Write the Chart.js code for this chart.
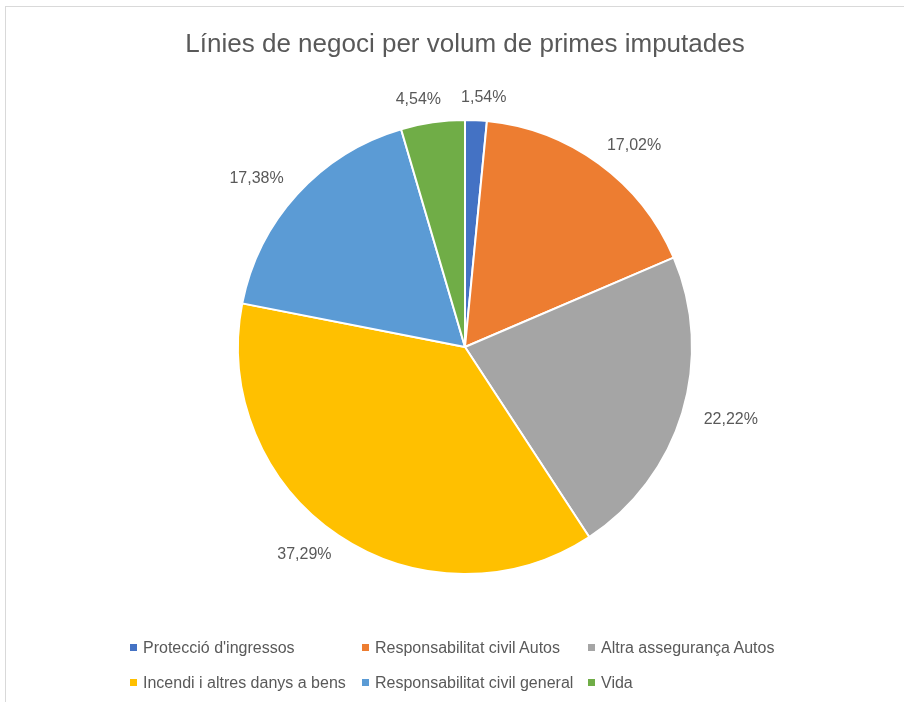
<!DOCTYPE html>
<html>
<head>
<meta charset="utf-8">
<script src="https://cdn.jsdelivr.net/npm/chart.js@4"></script>
<style>
  html, body { margin: 0; padding: 0; background: #fff; overflow: hidden; width: 904px; height: 702px; }
  #frame { position: absolute; left: 5px; top: 6px; width: 918px; height: 712px; border: 1px solid #d9d9d9; background: #fff; }
  #chartBox { position: absolute; left: 0; top: 0; width: 918px; height: 712px; }
  #legend { position: absolute; left: 124px; top: 623px; display: grid; grid-template-columns: 232px 226px auto; grid-auto-rows: 35px;
            font-family: "Liberation Sans", Arial, sans-serif; font-size: 16px; color: #595959; }
  #legend .item { display: flex; align-items: center; white-space: nowrap; }
  #legend .box { width: 7px; height: 7px; margin-right: 6px; flex: none; }
</style>
</head>
<body>
<div id="frame">
  <div id="chartBox"><canvas id="pie"></canvas></div>
  <div id="legend"></div>
</div>
<script>
const chartTitle = 'Línies de negoci per volum de primes imputades';
const categories = [
  "Protecció d'ingressos",
  'Responsabilitat civil Autos',
  'Altra assegurança Autos',
  'Incendi i altres danys a bens',
  'Responsabilitat civil general',
  'Vida'
];
const shares = [1.54, 17.02, 22.22, 37.29, 17.38, 4.54];
const sliceColors = ['#4472C4', '#ED7D31', '#A5A5A5', '#FFC000', '#5B9BD5', '#70AD47'];

const textColor = '#595959';
const fontFamily = '"Liberation Sans", Arial, sans-serif';

// percent labels outside the pie, Excel style (comma decimals)
const outsideLabels = {
  id: 'outsideLabels',
  afterDatasetsDraw(chart) {
    const ctx = chart.ctx;
    const meta = chart.getDatasetMeta(0);
    ctx.save();
    ctx.font = '16px ' + fontFamily;
    ctx.fillStyle = textColor;
    ctx.textAlign = 'center';
    ctx.textBaseline = 'middle';
    meta.data.forEach((arc, i) => {
      const p = arc.getProps(['x', 'y', 'startAngle', 'endAngle', 'outerRadius'], true);
      const mid = (p.startAngle + p.endAngle) / 2;
      const ux = Math.cos(mid), uy = Math.sin(mid);
      const text = shares[i].toFixed(2).replace('.', ',') + '%';
      const r = p.outerRadius + 19;
      const cx = p.x + ux * r + Math.sign(ux) * 31 * Math.sqrt(Math.abs(ux));
      const cy = p.y + uy * r + uy * 4;
      ctx.fillText(text, cx, cy);
    });
    ctx.restore();
  }
};

new Chart(document.getElementById('pie').getContext('2d'), {
  type: 'pie',
  plugins: [outsideLabels],
  data: {
    labels: categories,
    datasets: [{
      data: shares,
      backgroundColor: sliceColors,
      borderColor: '#ffffff',
      borderWidth: 2
    }]
  },
  options: {
    responsive: true,
    maintainAspectRatio: false,
    animation: false,
    layout: {
      padding: { top: 0, bottom: 144, left: 0, right: 0 }
    },
    plugins: {
      legend: { display: false },
      tooltip: { enabled: false },
      title: {
        display: true,
        text: chartTitle,
        color: textColor,
        font: { family: fontFamily, size: 26, weight: 'normal', lineHeight: 1.2 },
        padding: { top: 22.4, bottom: 58.4 }
      }
    }
  }
});

// legend in three aligned columns, like the original
const legendEl = document.getElementById('legend');
categories.forEach((name, i) => {
  const item = document.createElement('div');
  item.className = 'item';
  const box = document.createElement('span');
  box.className = 'box';
  box.style.background = sliceColors[i];
  const label = document.createElement('span');
  label.textContent = name;
  item.appendChild(box);
  item.appendChild(label);
  legendEl.appendChild(item);
});
</script>
</body>
</html>
